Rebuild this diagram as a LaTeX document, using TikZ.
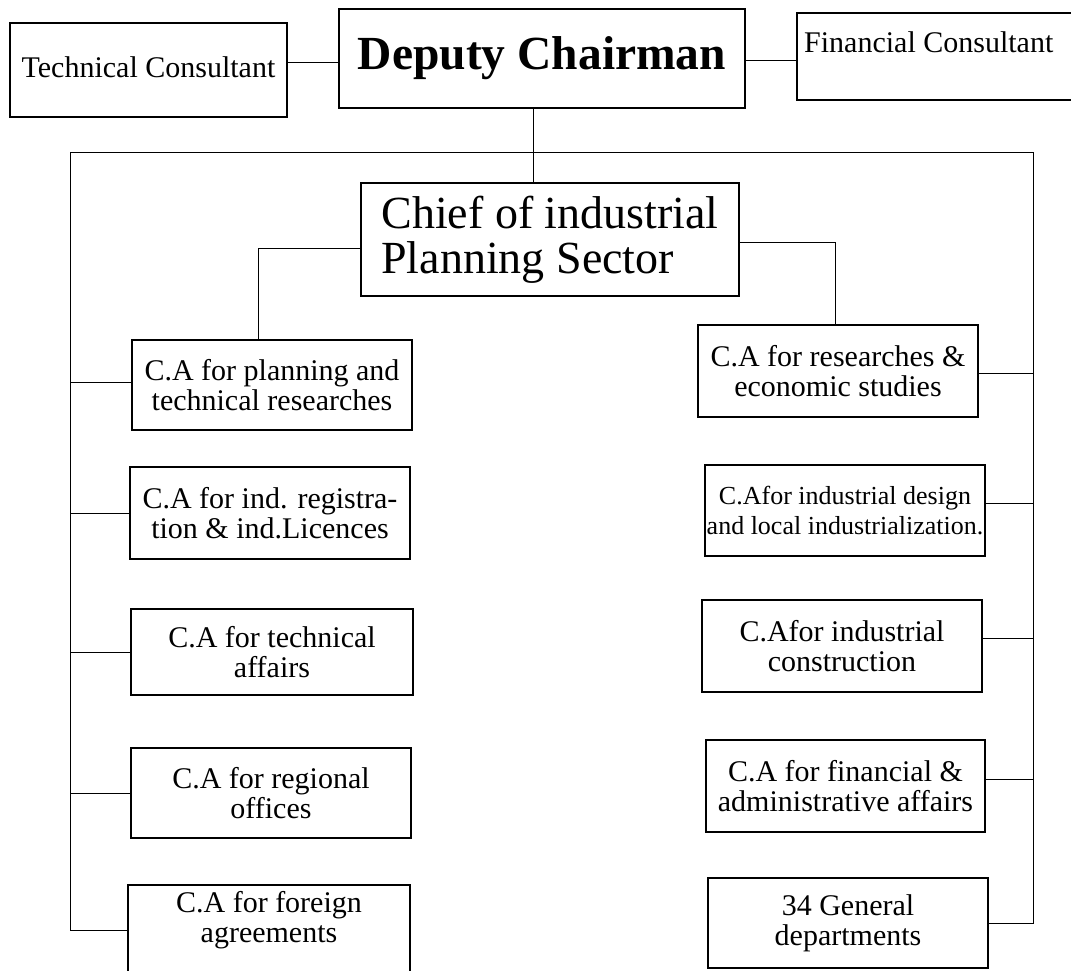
\documentclass[tikz,border=0pt]{standalone}
\usepackage{fontspec}
\setmainfont{Liberation Serif}
\begin{document}
\begin{tikzpicture}[x=1pt,y=-1pt,
  box/.style={draw, line width=1.8pt, inner sep=0pt, align=center,
    font=\fontsize{30}{30}\selectfont},
  txt/.style={inner sep=0pt, align=center, font=\fontsize{30}{30}\selectfont},
  conn/.style={line width=1pt}]
\useasboundingbox (0,0) rectangle (1071,971);
% top row
\node[box, minimum width=277pt, minimum height=94pt] (tc) at (148.5,70) {\raisebox{6pt}{Technical Consultant}};
\node[box, line width=2.8pt, minimum width=406pt, minimum height=99pt,
  font=\fontsize{47.5}{50}\selectfont\bfseries] (dc) at (542,58.5) {Deputy Chairman};
\node[box, minimum width=288pt, minimum height=87pt] (fc) at (941,56.5) {};
\node[txt, anchor=base west] (fct) at (804,53) {Financial Consultant};
% chief
\node[box, minimum width=378pt, minimum height=113pt, align=left,
  font=\fontsize{46}{45}\selectfont] (chief) at (550,239.5) {Chief of industrial\\Planning Sector};
% left column
\node[box, minimum width=280pt, minimum height=90pt] (L1) at (272,385) {C.A for planning and\\technical researches};
\node[box, minimum width=280pt, minimum height=92pt] (L2) at (270,513) {C.A for ind. registra-\\tion \& ind.Licences};
\node[box, minimum width=282pt, minimum height=86pt] (L3) at (272,652) {C.A for technical\\affairs};
\node[box, minimum width=280pt, minimum height=90pt] (L4) at (271,793) {C.A for regional\\offices};
\node[box, minimum width=282pt, minimum height=100pt] (L5) at (269,935) {};
\node[txt] (L5t) at (269,920) {C.A for foreign\\agreements};
% right column
\node[box, minimum width=280pt, minimum height=92pt] (R1) at (838,371) {C.A for researches \&\\economic studies};
\node[box, minimum width=280pt, minimum height=91pt,
  font=\fontsize{26}{30}\selectfont] (R2) at (845,510.5) {C.Afor industrial design\\and local industrialization.};
\node[box, minimum width=280pt, minimum height=92pt] (R3) at (842,646) {C.Afor industrial\\construction};
\node[box, minimum width=279pt, minimum height=92pt] (R4) at (845.5,786) {C.A for financial \&\\administrative affairs};
\node[box, minimum width=280pt, minimum height=90pt] (R5) at (848,923) {34 General\\departments};
% frame coordinates
\coordinate (topL) at (70,153);
\coordinate (topR) at (1033,153);
% connectors
\draw[conn] ([yshift=7pt]tc.east) -- ([yshift=7pt]tc.east -| dc.west);
\draw[conn] ([yshift=-2.5pt]dc.east) -- ([yshift=-2.5pt]dc.east -| fc.west);
\draw[conn] ([xshift=-9pt]dc.south) -- ([xshift=-9pt]dc.south |- chief.north);
\draw[conn] ([yshift=5pt]L5.west) -| (topL) -- (topR) |- (R5.east);
\draw[conn] ([yshift=-8.5pt]chief.west) -| ([xshift=-14pt]L1.north);
\draw[conn] ([yshift=-2.5pt]chief.east) -| ([xshift=-3pt]R1.north);
\draw[conn] ([yshift=3pt]L1.west) -- ([yshift=3pt]L1.west -| topL);
\draw[conn] (L2.west) -- (L2.west -| topL);
\draw[conn] (L3.west) -- (L3.west -| topL);
\draw[conn] (L4.west) -- (L4.west -| topL);
\draw[conn] ([yshift=-2pt]R1.east) -- ([yshift=-2pt]R1.east -| topR);
\draw[conn] ([yshift=7.5pt]R2.east) -- ([yshift=7.5pt]R2.east -| topR);
\draw[conn] ([yshift=8pt]R3.east) -- ([yshift=8pt]R3.east -| topR);
\draw[conn] ([yshift=7pt]R4.east) -- ([yshift=7pt]R4.east -| topR);
\end{tikzpicture}
\end{document}
